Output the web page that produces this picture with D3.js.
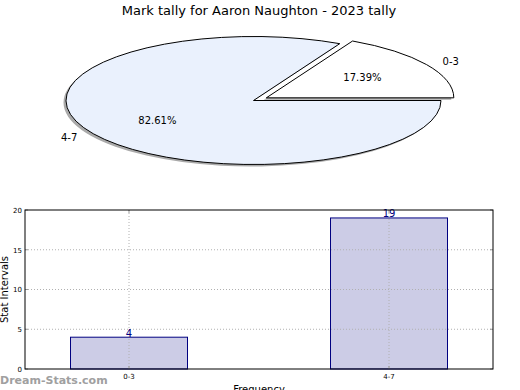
<!DOCTYPE html>
<html>
<head>
<meta charset="utf-8">
<script src="https://cdn.jsdelivr.net/npm/d3@7/dist/d3.min.js"></script>
<style>
  body { margin: 0; background: #fff; }
  svg { display: block; font-family: "DejaVu Sans", sans-serif; }
</style>
</head>
<body>
<svg id="chart" width="520" height="390"></svg>
<script>
// chart data
const title = "Mark tally for Aaron Naughton - 2023 tally";
const categories = ["0-3", "4-7"];
const counts = [4, 19];
const pieColors = ["#ffffff", "#eaf1fd"];
const yTicks = [0, 5, 10, 15, 20];

const svg = d3.select("#chart");

svg.append("text")
    .attr("x", 259).attr("y", 15)
    .attr("text-anchor", "middle")
    .attr("font-size", "13px")
    .text(title);

// ---- pie (matplotlib style: start at 3 o'clock, counter clockwise) ----
const cx = 253.5, cy = 100.5, rx = 187.5, ry = 64;
const explode = [0.08, 0];
const total = d3.sum(counts);

const pie = d3.pie().sort(null)
    .startAngle(Math.PI / 2)
    .endAngle(Math.PI / 2 - 2 * Math.PI);
const arcs = pie(counts);
const arc = d3.arc().innerRadius(0).outerRadius(1);

const pieG = svg.append("g");

arcs.forEach((a, i) => {
    const mid = (a.startAngle + a.endAngle) / 2;
    a.ox = cx + explode[i] * rx * Math.sin(mid);
    a.oy = cy - explode[i] * ry * Math.cos(mid);
    a.mid = mid;
});

// shadows first
pieG.selectAll(".shadow")
    .data(arcs)
    .enter()
    .append("path")
    .attr("class", "shadow")
    .attr("d", arc)
    .attr("transform", d => `translate(${d.ox - 2.5}, ${d.oy + 2}) scale(${rx}, ${ry})`)
    .attr("fill", "#555")
    .attr("opacity", 0.5);

pieG.selectAll(".slice")
    .data(arcs)
    .enter()
    .append("path")
    .attr("class", "slice")
    .attr("d", arc)
    .attr("transform", d => `translate(${d.ox}, ${d.oy}) scale(${rx}, ${ry})`)
    .attr("fill", (d, i) => pieColors[i])
    .attr("stroke", "#000")
    .attr("stroke-width", 1)
    .attr("vector-effect", "non-scaling-stroke");

pieG.selectAll(".pct")
    .data(arcs)
    .enter()
    .append("text")
    .attr("class", "pct")
    .attr("x", d => d.ox + 0.6 * rx * Math.sin(d.mid))
    .attr("y", d => d.oy - 0.6 * ry * Math.cos(d.mid))
    .attr("dy", "0.35em")
    .attr("text-anchor", "middle")
    .attr("font-size", "10px")
    .text(d => (d.value / total * 100).toFixed(2) + "%");

pieG.selectAll(".lbl")
    .data(arcs)
    .enter()
    .append("text")
    .attr("class", "lbl")
    .attr("x", d => d.ox + 1.1 * rx * Math.sin(d.mid))
    .attr("y", d => d.oy - 1.1 * ry * Math.cos(d.mid))
    .attr("dy", "0.35em")
    .attr("text-anchor", d => Math.sin(d.mid) > 0 ? "start" : "end")
    .attr("font-size", "10px")
    .text((d, i) => categories[i]);

// ---- bar chart ----
const plotL = 25, plotR = 493, plotT = 210, plotB = 369;

const x = d3.scaleBand()
    .domain(categories)
    .range([plotL, plotR])
    .paddingInner(0.55)
    .paddingOuter(0.175);

const y = d3.scaleLinear()
    .domain([0, 20])
    .range([plotB, plotT]);

svg.selectAll(".bar")
    .data(counts)
    .enter()
    .append("rect")
    .attr("class", "bar")
    .attr("x", (d, i) => x(categories[i]))
    .attr("y", d => y(d))
    .attr("width", x.bandwidth())
    .attr("height", d => y(0) - y(d))
    .attr("fill", "#ccccE6")
    .attr("stroke", "#000080")
    .attr("stroke-width", 1);

// grid drawn over the bars, like the original
svg.append("g")
    .attr("stroke", "#b0b0b0")
    .attr("stroke-dasharray", "1,2")
    .selectAll(".hgrid")
    .data(yTicks.slice(1, -1))
    .enter()
    .append("line")
    .attr("x1", plotL).attr("x2", plotR)
    .attr("y1", d => y(d)).attr("y2", d => y(d));

svg.append("g")
    .attr("stroke", "#b0b0b0")
    .attr("stroke-dasharray", "1,2")
    .selectAll(".vgrid")
    .data(categories)
    .enter()
    .append("line")
    .attr("x1", d => x(d) + x.bandwidth() / 2)
    .attr("x2", d => x(d) + x.bandwidth() / 2)
    .attr("y1", plotT).attr("y2", plotB);

svg.selectAll(".val")
    .data(counts)
    .enter()
    .append("text")
    .attr("class", "val")
    .attr("x", (d, i) => x(categories[i]) + x.bandwidth() / 2)
    .attr("y", d => y(d) - 0.5)
    .attr("text-anchor", "middle")
    .attr("font-size", "10px")
    .attr("fill", "#000080")
    .text(d => d);

// axes
const yAxis = d3.axisLeft(y).tickValues(yTicks).tickSize(0).tickPadding(3);
svg.append("g")
    .attr("transform", `translate(${plotL},0)`)
    .call(yAxis)
    .call(g => g.select(".domain").remove())
    .selectAll("text")
    .attr("font-size", "7px")
    .attr("font-family", "DejaVu Sans");

const xAxis = d3.axisBottom(x).tickSize(0).tickPadding(5);
svg.append("g")
    .attr("transform", `translate(0,${plotB})`)
    .call(xAxis)
    .call(g => g.select(".domain").remove())
    .selectAll("text")
    .attr("font-size", "7px")
    .attr("font-family", "DejaVu Sans");

// inward ticks on both sides
const ticks = svg.append("g").attr("stroke", "#999");
ticks.selectAll(".tl").data(yTicks).enter().append("line")
    .attr("x1", plotL).attr("x2", plotL + 3)
    .attr("y1", d => y(d)).attr("y2", d => y(d));
ticks.selectAll(".tr").data(yTicks).enter().append("line")
    .attr("x1", plotR - 3).attr("x2", plotR)
    .attr("y1", d => y(d)).attr("y2", d => y(d));
ticks.selectAll(".tb").data(categories).enter().append("line")
    .attr("x1", d => x(d) + x.bandwidth() / 2).attr("x2", d => x(d) + x.bandwidth() / 2)
    .attr("y1", plotB).attr("y2", plotB - 3);
ticks.selectAll(".tt").data(categories).enter().append("line")
    .attr("x1", d => x(d) + x.bandwidth() / 2).attr("x2", d => x(d) + x.bandwidth() / 2)
    .attr("y1", plotT).attr("y2", plotT + 3);

svg.append("rect")
    .attr("x", plotL).attr("y", plotT)
    .attr("width", plotR - plotL).attr("height", plotB - plotT)
    .attr("fill", "none")
    .attr("stroke", "#000")
    .attr("stroke-width", 1);

svg.append("text")
    .attr("transform", `translate(8, ${(plotT + plotB) / 2}) rotate(-90)`)
    .attr("text-anchor", "middle")
    .attr("font-size", "10px")
    .text("Stat Intervals");

// axis title sits partly below the bottom edge in the original
svg.append("text")
    .attr("x", (plotL + plotR) / 2).attr("y", 393)
    .attr("text-anchor", "middle")
    .attr("font-size", "10px")
    .text("Frequency");

svg.append("text")
    .attr("x", 0).attr("y", 384)
    .attr("font-size", "11px")
    .attr("font-weight", "bold")
    .attr("fill", "#a0a0a0")
    .text("Dream-Stats.com");
</script>
</body>
</html>
